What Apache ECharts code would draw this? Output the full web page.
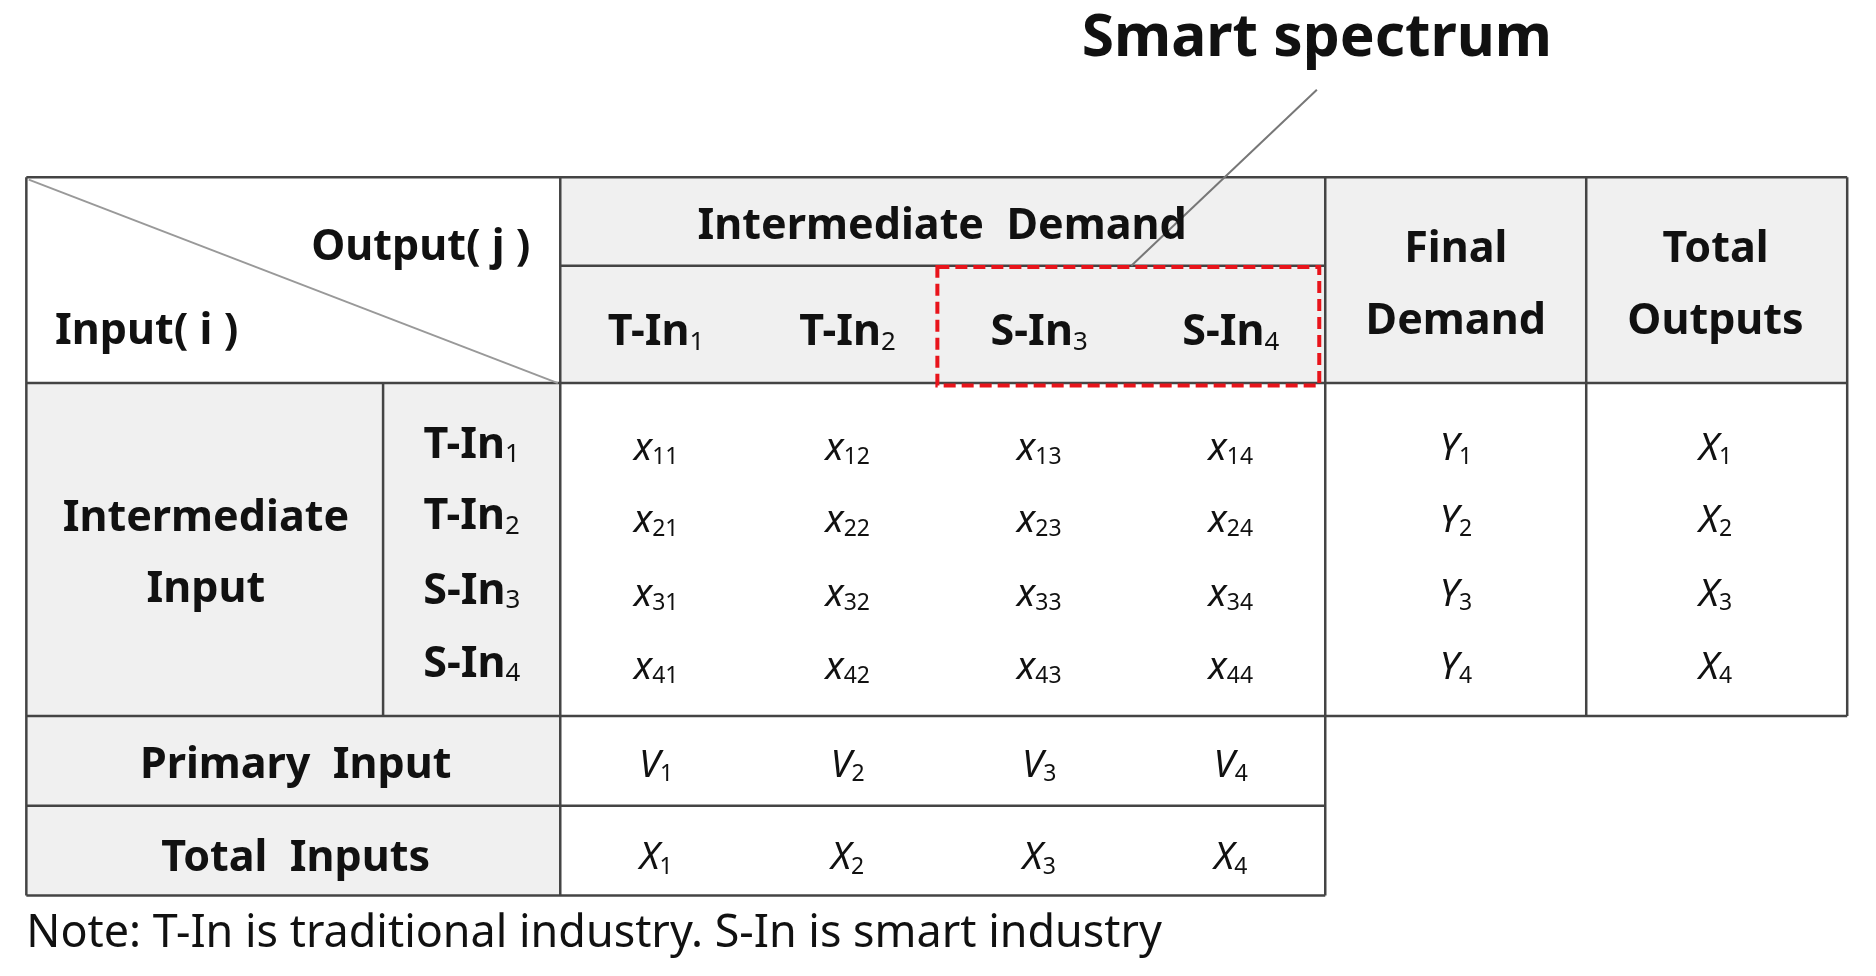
<!DOCTYPE html>
<html><head><meta charset="utf-8">
<script src="https://cdn.jsdelivr.net/npm/echarts@6/dist/echarts.min.js"></script>
<style>html,body{margin:0;padding:0;background:#fff}#main{width:1876px;height:976px}</style>
</head><body><div id="main"></div>
<script>
// table contents
var colLabels = [['T-In','1'],['T-In','2'],['S-In','3'],['S-In','4']];
var rowLabels = [['T-In','1'],['T-In','2'],['S-In','3'],['S-In','4']];
var cellVals = [['x','11','x','12','x','13','x','14'],['x','21','x','22','x','23','x','24'],['x','31','x','32','x','33','x','34'],['x','41','x','42','x','43','x','44']];
var finalDemand = [['Y','1'],['Y','2'],['Y','3'],['Y','4']];
var totalOut = [['X','1'],['X','2'],['X','3'],['X','4']];
var primary = [['V','1'],['V','2'],['V','3'],['V','4']];
var totalIn = [['X','1'],['X','2'],['X','3'],['X','4']];

var s = 1876/1560*0.9955;
var F = 'Noto Sans, sans-serif';
var chart = echarts.init(document.getElementById('main'));
var els = [];
function P(v){return v*s;}
function rect(x1,y1,x2,y2,fill){els.push({type:'rect',shape:{x:P(x1),y:P(y1),width:P(x2-x1),height:P(y2-y1)},style:{fill:fill,stroke:null},z:1});}
function line(x1,y1,x2,y2,c,w){els.push({type:'line',shape:{x1:P(x1),y1:P(y1),x2:P(x2),y2:P(y2)},style:{stroke:c||'#444',lineWidth:w||2.5},z:5});}
function txt(x,y,t,size,bold,align){els.push({type:'text',x:P(x),y:P(y),style:{text:t,fill:'#111',font:(bold?'bold ':'')+P(size)+'px '+F,align:align||'center',verticalAlign:'middle'},z:6});}
function sub(x,y,pair,size,bold,italic){
  els.push({type:'text',x:P(x),y:P(y),style:{text:'{m|'+pair[0]+'}{s|'+pair[1]+'}',align:'center',verticalAlign:'middle',
    rich:{m:{fontSize:P(size),fontWeight:bold?'bold':'normal',fontStyle:italic?'italic':'normal',fontFamily:F,fill:'#111'},
          s:{fontSize:P(size*0.6),fontWeight:'normal',fontFamily:F,fill:'#111',padding:[P(size*0.45),0,0,0]}}},z:6});
}
var cx = [548,708,868,1028], ry = [375,435,497,558];
// fills
rect(468,148,1543,320,'#f0f0f0');
rect(22,320,468,748,'#f0f0f0');
// borders
line(22,148,1543,148); line(22,320,1543,320); line(22,598,1543,598);
line(22,673,1107,673); line(22,748,1107,748); line(468,222,1107,222);
line(22,148,22,748); line(468,148,468,748); line(1107,148,1107,748);
line(1325,148,1325,598); line(1543,148,1543,598); line(320,320,320,598);
line(24,150,466,320,'#999',2);
// header texts
txt(443,207,'Output( j )',36,true,'right'); txt(46,277,'Input( i )',36,true,'left');
txt(787,189,'Intermediate  Demand',36,true);
txt(1216,209,'Final',36,true); txt(1216,269,'Demand',36,true);
txt(1433,209,'Total',36,true); txt(1433,269,'Outputs',36,true);
txt(172,433,'Intermediate',36,true); txt(172,493,'Input',36,true);
txt(247,640,'Primary  Input',36,true); txt(247,717,'Total  Inputs',36,true);
colLabels.forEach(function(c,i){sub(cx[i],278,c,36,true);});
rowLabels.forEach(function(r,i){sub(394,ry[i]-3,r,36,true);});
cellVals.forEach(function(row,i){for(var j=0;j<4;j++){sub(cx[j],ry[i],[row[2*j],row[2*j+1]],32,false,true);}});
finalDemand.forEach(function(v,i){sub(1216,ry[i],v,32,false,true);});
totalOut.forEach(function(v,i){sub(1433,ry[i],v,32,false,true);});
primary.forEach(function(v,i){sub(cx[i],640,v,32,false,true);});
totalIn.forEach(function(v,i){sub(cx[i],717,v,32,false,true);});
// smart spectrum callout
els.push({type:'rect',shape:{x:P(783),y:P(223),width:P(319),height:P(99)},style:{fill:null,stroke:'#e8141b',lineWidth:4,lineDash:[12,6]},z:7});
line(1100,75,945,222,'#777',2);
txt(1100,33,'Smart spectrum',49,true);
txt(22,780,'Note: T-In is traditional industry. S-In is smart industry',37.5,false,'left');
chart.setOption({animation:false,graphic:{elements:els}});
</script></body></html>
